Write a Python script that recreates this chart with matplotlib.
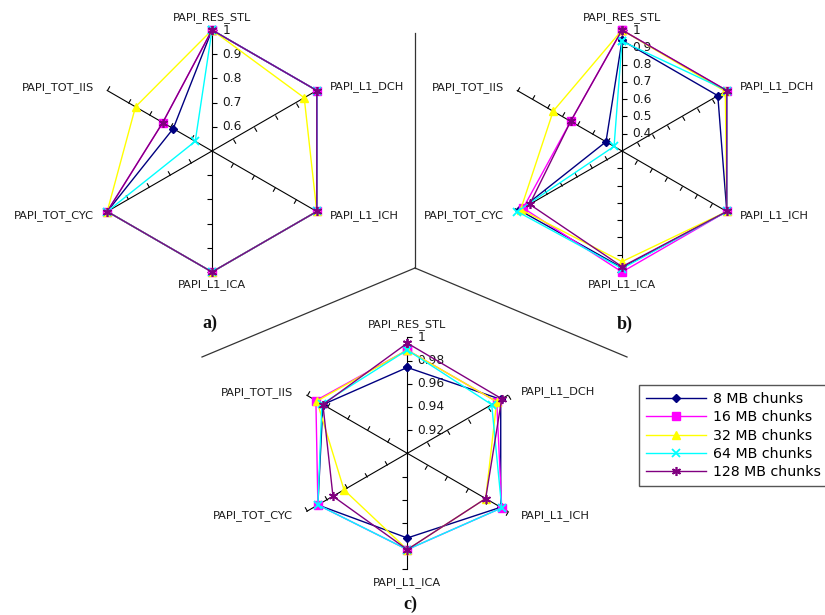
import numpy as np
import matplotlib
matplotlib.use("Agg")
import matplotlib.pyplot as plt
from matplotlib.path import Path
from matplotlib.markers import MarkerStyle
from matplotlib.transforms import Affine2D

plt.rcParams['font.family'] = ['DejaVu Sans']

# ---------------- data ----------------
categories = ["PAPI_RES_STL", "PAPI_L1_DCH", "PAPI_L1_ICH",
              "PAPI_L1_ICA", "PAPI_TOT_CYC", "PAPI_TOT_IIS"]
series_names = ["8 MB chunks", "16 MB chunks", "32 MB chunks",
                "64 MB chunks", "128 MB chunks"]

# chart a)
a_8 = [1.0, 1.0, 1.0, 1.0, 1.0, 0.685]
a_16 = [1.0, 1.0, 1.0, 1.0, 1.0, 0.735]
a_32 = [1.0, 0.94, 1.0, 1.0, 1.0, 0.865]
a_64 = [1.0, 1.0, 1.0, 1.0, 1.0, 0.58]
a_128 = [1.0, 1.0, 1.0, 1.0, 1.0, 0.735]
a_ticks = [0.6, 0.7, 0.8, 0.9, 1.0]
a_ticklabels = ["0.6", "0.7", "0.8", "0.9", "1"]
a_rmin = 0.5

# chart b)
b_8 = [0.94, 0.94, 1.0, 0.975, 0.985, 0.407]
b_16 = [1.0, 1.0, 1.0, 1.0, 0.96, 0.643]
b_32 = [1.0, 0.99, 1.0, 0.94, 0.977, 0.76]
b_64 = [0.935, 1.0, 1.0, 0.98, 1.0, 0.353]
b_128 = [1.0, 1.0, 1.0, 0.969, 0.917, 0.643]
b_ticks = [0.4, 0.5, 0.6, 0.7, 0.8, 0.9, 1.0]
b_ticklabels = ["0.4", "0.5", "0.6", "0.7", "0.8", "0.9", "1"]
b_rmin = 0.3

# chart c)
c_8 = [0.974, 0.993, 0.993, 0.973, 0.989, 0.984]
c_16 = [0.989, 0.989, 0.994, 0.983, 0.989, 0.991]
c_32 = [0.989, 0.989, 0.978, 0.983, 0.963, 0.990]
c_64 = [0.989, 0.984, 0.994, 0.983, 0.989, 0.985]
c_128 = [0.995, 0.994, 0.978, 0.983, 0.974, 0.984]
c_ticks = [0.92, 0.94, 0.96, 0.98, 1.0]
c_ticklabels = ["0.92", "0.94", "0.96", "0.98", "1"]
c_rmin = 0.9

# ---------------- styles ----------------
colors = ["#000080", "#ff00ff", "#ffff00", "#00ffff", "#800080"]
markers = ["D", "s", "^", "x", (6, 2, 0)]
msizes = [4.5, 5.5, 6.0, 6.0, 6.5]
mews = [1.0, 1.0, 1.0, 1.3, 1.2]

W, H = 825, 615
fig = plt.figure(figsize=(W / 100, H / 100), dpi=100)

# background axes in pixel coordinates for separators and panel letters
bg = fig.add_axes([0, 0, 1, 1])
bg.set_xlim(0, W)
bg.set_ylim(H, 0)
bg.axis("off")
sep_kw = dict(color="#333333", lw=0.9)
bg.plot([415, 415], [33, 268], **sep_kw)
bg.plot([415, 202], [268, 357], **sep_kw)
bg.plot([415, 627], [268, 357], **sep_kw)
letter_kw = dict(family="Liberation Serif", fontweight="bold", fontsize=13,
                 ha="center", va="center", color="#111111")
bg.text(210, 323, "a)", **letter_kw)
bg.text(625, 324, "b)", **letter_kw)
bg.text(410, 604, "c)", **letter_kw)

angles_deg = np.arange(6) * 60.0
angles = np.deg2rad(angles_deg)

tick_path = Path([(0, 0), (1, 0)], [Path.MOVETO, Path.LINETO])

# label offsets (pixels) relative to axis end, and alignment
label_pos = [((0, 12.5), "center", "center"),
             ((13.5, 4), "left", "center"),
             ((13.5, -4), "left", "center"),
             ((0, -13), "center", "center"),
             ((-13.5, -4), "right", "center"),
             ((-13.5, 3), "right", "center")]


def radar(cx, cy, R, rmin, ticks, ticklabels, data):
    ax = fig.add_axes([(cx - R) / W, (H - cy - R) / H, 2 * R / W, 2 * R / H],
                      projection="polar")
    ax.set_theta_zero_location("N")
    ax.set_theta_direction(-1)
    ax.set_rlim(rmin, 1.0)
    ax.set_axis_off()
    # axes lines with ticks
    for th, thd in zip(angles, angles_deg):
        ax.plot([th, th], [rmin, 1.0], color="black", lw=0.8, zorder=1,
                clip_on=False)
        mk = MarkerStyle(tick_path, transform=Affine2D().rotate_deg(-thd))
        ax.plot([th] * len(ticks), ticks, linestyle="none", marker=mk,
                ms=7, mec="black", mew=0.8, zorder=1, clip_on=False)
    # tick labels on the upward axis
    for v, t in zip(ticks, ticklabels):
        ax.annotate(t, xy=(0, v), xytext=(7.5, 0), textcoords="offset points",
                    ha="left", va="center", fontsize=8.8, color="#1a1a1a",
                    annotation_clip=False)
    # category labels
    for th, name, (off, ha, va) in zip(angles, categories, label_pos):
        ax.annotate(name, xy=(th, 1.0),
                    xytext=(off[0] * 0.72, off[1] * 0.72),
                    textcoords="offset points", ha=ha, va=va,
                    fontsize=8.2, color="#1a1a1a", annotation_clip=False)
    lines = []
    thc = np.append(angles, angles[0])
    for vals, col, m, ms, mew, name in zip(data, colors, markers, msizes,
                                           mews, series_names):
        v = np.append(vals, vals[0])
        ln, = ax.plot(thc, v, color=col, lw=1.0, marker=m, ms=ms, mew=mew,
                      mec=col, mfc=col, zorder=3, clip_on=False, label=name)
        lines.append(ln)
    return lines


radar(212, 151, 121, a_rmin, a_ticks, a_ticklabels,
      [a_8, a_16, a_32, a_64, a_128])
radar(622, 151, 121, b_rmin, b_ticks, b_ticklabels,
      [b_8, b_16, b_32, b_64, b_128])
handles = radar(407.3, 453.3, 116, c_rmin, c_ticks, c_ticklabels,
                [c_8, c_16, c_32, c_64, c_128])

leg = fig.legend(handles, series_names, loc="upper left",
                 bbox_to_anchor=(639 / W, 1 - 385 / H), borderaxespad=0,
                 fontsize=10.2, handlelength=4.2, handletextpad=0.55,
                 labelspacing=0.3, borderpad=0.5, fancybox=False,
                 framealpha=1, edgecolor="#555555")
leg.get_frame().set_linewidth(1.0)

fig.savefig("out.png", dpi=100)
